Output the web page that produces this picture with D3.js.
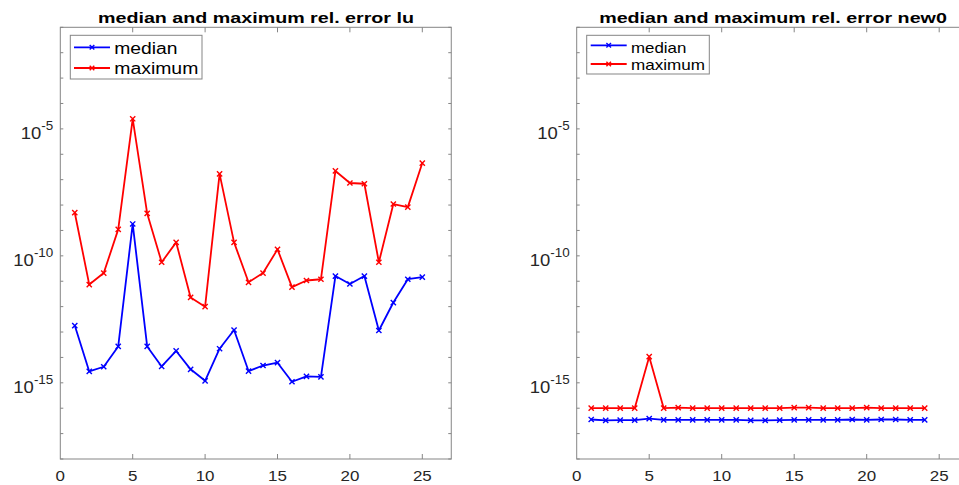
<!DOCTYPE html>
<html>
<head>
<meta charset="utf-8">
<script src="https://cdn.jsdelivr.net/npm/d3@7"></script>
<style>
  html, body { margin: 0; padding: 0; background: #fff; }
  svg { display: block; font-family: "Liberation Sans", Arial, Helvetica, sans-serif; }
</style>
</head>
<body>
<svg id="chart" width="959" height="485"></svg>
<script>
// ---------------- data ----------------
const xLeft = d3.range(1, 26);   // 1..25
const xRight = d3.range(1, 25);  // 1..24

const luMedian = [1.8e-13, 2.8e-15, 4.3e-15, 2.7e-14, 1.8e-9, 2.7e-14, 4.4e-15, 1.8e-14, 3.4e-15, 1.2e-15,
  2.2e-14, 1.2e-13, 2.9e-15, 4.8e-15, 6.2e-15, 1.1e-15, 1.8e-15, 1.7e-15, 1.6e-11, 7.8e-12,
  1.6e-11, 1.15e-13, 1.45e-12, 1.2e-11, 1.45e-11];
const luMaximum = [5.0e-9, 7.4e-12, 2.1e-11, 1.1e-9, 2.5e-5, 4.7e-9, 5.6e-11, 3.4e-10, 2.3e-12, 1.0e-12,
  1.7e-7, 3.4e-10, 9.1e-12, 2.1e-11, 1.8e-10, 5.9e-12, 1.07e-11, 1.2e-11, 2.2e-7, 7.4e-8,
  6.9e-8, 5.6e-11, 1.1e-8, 8.3e-9, 4.5e-7];

const new0Median = [3.6e-17, 3.3e-17, 3.4e-17, 3.4e-17, 3.9e-17, 3.5e-17, 3.5e-17, 3.5e-17, 3.5e-17, 3.5e-17,
  3.5e-17, 3.3e-17, 3.3e-17, 3.4e-17, 3.5e-17, 3.5e-17, 3.5e-17, 3.5e-17, 3.6e-17, 3.5e-17,
  3.6e-17, 3.6e-17, 3.5e-17, 3.5e-17];
const new0Maximum = [1.0e-16, 1.0e-16, 1.0e-16, 1.0e-16, 1.07e-14, 1.0e-16, 1.05e-16, 1.0e-16, 1.0e-16, 1.0e-16,
  1.0e-16, 1.0e-16, 1.0e-16, 1.0e-16, 1.05e-16, 1.05e-16, 1.0e-16, 1.0e-16, 1.0e-16, 1.05e-16,
  1.0e-16, 1.0e-16, 1.0e-16, 1.0e-16];

const xTicks = [0, 5, 10, 15, 20, 25];
const yTickExps = d3.range(-18, 0);          // a tick every decade
const yLabelExps = [-15, -10, -5];            // labelled decades
const legendNames = ["median", "maximum"];
const seriesColors = ["#0000ff", "#ff0000"];

// ---------------- drawing ----------------
const svg = d3.select("#chart");
const axisColor = "#858585";
const textColor = "#262626";

function stretchText(sel, sx) {
  sel.each(function () {
    const t = d3.select(this);
    const x = +t.attr("data-x"), y = +t.attr("data-y");
    t.attr("transform", `translate(${x},${y}) scale(${sx},1)`);
  });
}

function drawPanel(p) {
  const g = svg.append("g");
  const x = d3.scaleLinear().domain([0, 27]).range([p.left, p.left + 27 * p.pxPerUnit]);
  const y = d3.scaleLog().domain([1e-18, 1e-1]).range([459, 27.3]);
  const [x0, x1] = x.range();
  const [yb, yt] = y.range();

  // box
  g.append("rect").attr("x", x0).attr("y", yt).attr("width", x1 - x0).attr("height", yb - yt)
    .attr("fill", "none").attr("stroke", axisColor).attr("stroke-width", 1);

  // x ticks (bottom and top, inward)
  const xt = g.append("g");
  xTicks.forEach(v => {
    if (v === 0) return;
    xt.append("line").attr("x1", x(v)).attr("x2", x(v)).attr("y1", yb).attr("y2", yb - 5)
      .attr("stroke", axisColor);
    xt.append("line").attr("x1", x(v)).attr("x2", x(v)).attr("y1", yt).attr("y2", yt + 5)
      .attr("stroke", axisColor);
  });
  xTicks.forEach(v => {
    xt.append("text").attr("data-x", x(v)).attr("data-y", 481)
      .attr("text-anchor", "middle").attr("font-size", 15).attr("fill", textColor)
      .text(v);
  });
  stretchText(xt.selectAll("text"), 1.13);

  // y ticks
  const yTickVals = yTickExps.map(e => Math.pow(10, e));
  const ytg = g.append("g");
  yTickVals.forEach(v => {
    ytg.append("line").attr("x1", x0).attr("x2", x0 + 3).attr("y1", y(v)).attr("y2", y(v))
      .attr("stroke", axisColor);
    ytg.append("line").attr("x1", x1).attr("x2", x1 - 3).attr("y1", y(v)).attr("y2", y(v))
      .attr("stroke", axisColor);
  });
  yLabelExps.forEach(e => {
    const t = ytg.append("text").attr("data-x", x0 - 7).attr("data-y", y(Math.pow(10, e)) + 9.8)
      .attr("text-anchor", "end").attr("fill", textColor).attr("font-size", 16.5);
    t.append("tspan").text("10");
    t.append("tspan").attr("font-size", 12).attr("dy", -8.3).text(String(e));
  });
  stretchText(ytg.selectAll("text"), 1.12);

  // title
  g.append("text").attr("x", p.titleX).attr("y", 22.5).attr("text-anchor", "middle")
    .attr("font-size", 15.5).attr("font-weight", "bold").attr("fill", "#000")
    .attr("textLength", p.titleW).attr("lengthAdjust", "spacingAndGlyphs")
    .text(p.title);

  // series
  const line = d3.line().x((d, i) => x(p.xs[i])).y(d => y(d));
  p.series.forEach((s, k) => {
    g.append("path").datum(s).attr("d", line).attr("fill", "none")
      .attr("stroke", seriesColors[k]).attr("stroke-width", 1.8).attr("stroke-linejoin", "round");
    const m = 2.6;
    g.append("g").selectAll("path").data(s).join("path")
      .attr("d", (d, i) => {
        const cx = x(p.xs[i]), cy = y(d);
        return `M${cx - m},${cy - m}L${cx + m},${cy + m}M${cx - m},${cy + m}L${cx + m},${cy - m}`;
      })
      .attr("stroke", seriesColors[k]).attr("stroke-width", 1.4).attr("fill", "none");
  });

  // legend
  const L = p.legend;
  const lg = g.append("g");
  lg.append("rect").attr("x", L.x).attr("y", L.y).attr("width", L.w).attr("height", L.h)
    .attr("fill", "#fff").attr("stroke", axisColor).attr("stroke-width", 1);
  legendNames.forEach((name, k) => {
    const ly = L.lineY[k];
    lg.append("line").attr("x1", L.lx0).attr("x2", L.lx1).attr("y1", ly).attr("y2", ly)
      .attr("stroke", seriesColors[k]).attr("stroke-width", 1.8);
    const cx = (L.lx0 + L.lx1) / 2, m = 2.3;
    lg.append("path").attr("d", `M${cx - m},${ly - m}L${cx + m},${ly + m}M${cx - m},${ly + m}L${cx + m},${ly - m}`)
      .attr("stroke", seriesColors[k]).attr("stroke-width", 1.4);
    lg.append("text").attr("x", L.tx).attr("y", L.textY[k]).attr("font-size", L.fs)
      .attr("fill", "#000").attr("textLength", L.tw[k]).attr("lengthAdjust", "spacingAndGlyphs")
      .text(name);
  });
}

drawPanel({
  left: 60.3, pxPerUnit: 14.48,
  title: "median and maximum rel. error lu", titleX: 256, titleW: 316,
  xs: xLeft, series: [luMedian, luMaximum],
  legend: { x: 70.3, y: 35.3, w: 131.7, h: 43.7, lx0: 74, lx1: 110, lineY: [47.3, 68],
            tx: 114.3, textY: [54, 74.2], fs: 16, tw: [63.3, 84] }
});

drawPanel({
  left: 576.7, pxPerUnit: 14.5,
  title: "median and maximum rel. error new0", titleX: 773, titleW: 347.7,
  xs: xRight, series: [new0Median, new0Maximum],
  legend: { x: 586.7, y: 35.3, w: 122.6, h: 38.7, lx0: 590.7, lx1: 626.7, lineY: [45.3, 64],
            tx: 631, textY: [52.7, 70.3], fs: 14.5, tw: [55.3, 74] }
});
</script>
</body>
</html>
